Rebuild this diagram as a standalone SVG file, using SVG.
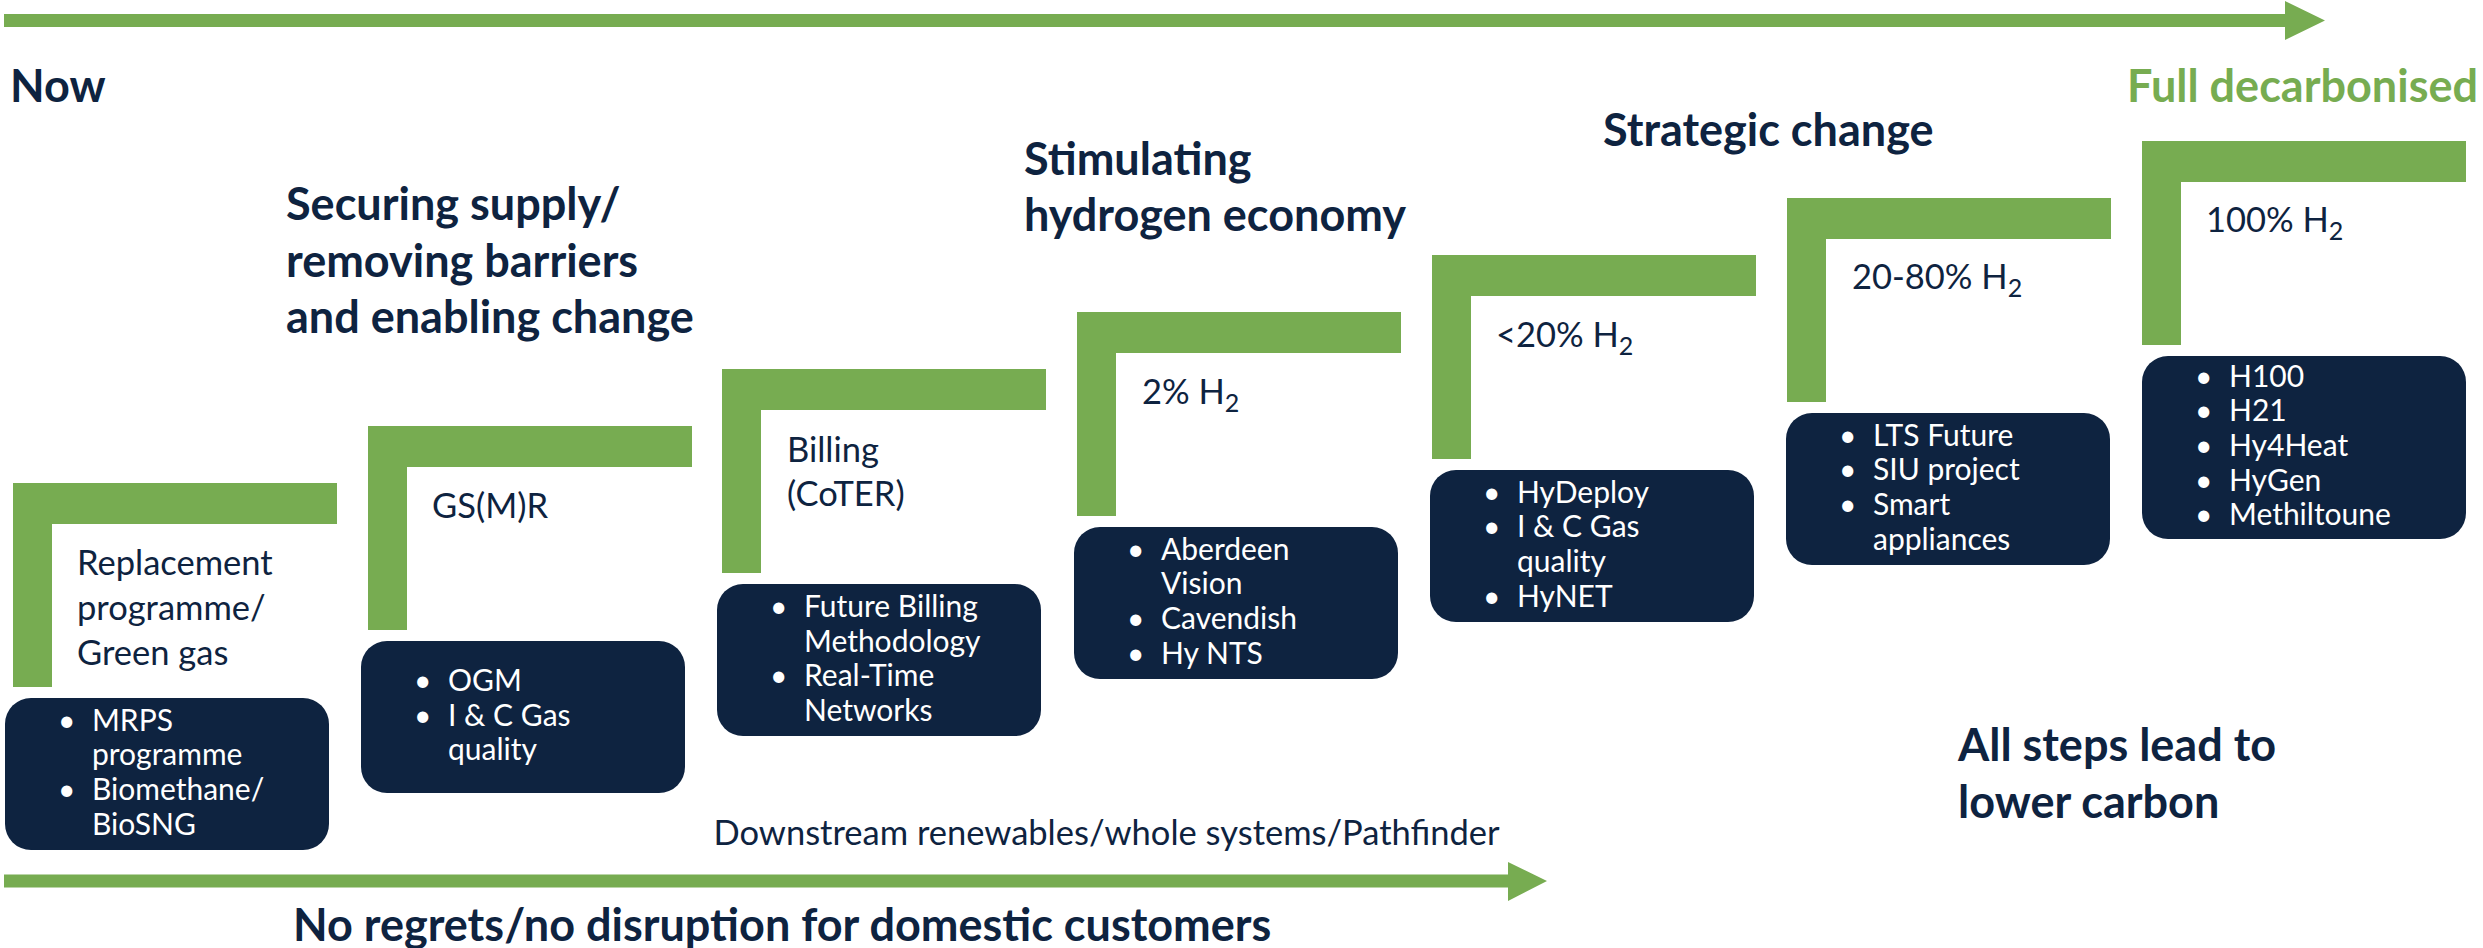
<svg xmlns="http://www.w3.org/2000/svg" width="2483" height="948" viewBox="0 0 2483 948">
<style>
text{font-family:Lato,"Liberation Sans",sans-serif;fill:#0e2340}
.h{font-weight:bold;font-size:45px}
.g{fill:#77ac51}
.lab{font-size:34.5px}
.bx{font-size:30px;fill:#ffffff}
.box{fill:#0e2340}
.step{fill:#77ac51}
.sub{font-size:25px}
</style>
<rect width="2483" height="948" fill="#ffffff"/>
<g id="connectors">
<path class="step" d="M4 14 H2285 V1 L2325 20.5 L2285 40 V27 H4 Z"/>
<path class="step" d="M4 874.5 H1508 V862 L1547 881 L1508 901 V887.5 H4 Z"/>
</g>
<g id="headings">
<text class="h" x="10" y="102">Now</text>
<text class="h" x="286" y="220">Securing supply/</text>
<text class="h" x="286" y="276.5">removing barriers</text>
<text class="h" x="286" y="333">and enabling change</text>
<text class="h" x="1024" y="174.5">Stimulating</text>
<text class="h" x="1024" y="230.5">hydrogen economy</text>
<text class="h" x="1603" y="145.5">Strategic change</text>
<text class="h g" x="2478" y="101.7" text-anchor="end" font-size="44">Full decarbonised</text>
<text class="h" x="1958" y="761">All steps lead to</text>
<text class="h" x="1958" y="818">lower carbon</text>
<text class="h" x="293" y="941" font-size="44.5">No regrets/no disruption for domestic customers</text>
<text class="lab" x="713.5" y="845">Downstream renewables/whole systems/Pathfinder</text>
</g>
<g id="step1">
<path class="step" d="M13 483 h324 v41 h-285 v163 h-39 z"/>
<text class="lab" x="77" y="575">Replacement</text>
<text class="lab" x="77" y="620">programme/</text>
<text class="lab" x="77" y="665">Green gas</text>
<rect class="box" x="5" y="698" width="324" height="152" rx="26"/>
<text class="bx" x="58" y="730.5">•</text><text class="bx" x="92" y="730.5">MRPS</text>
<text class="bx" x="92" y="765">programme</text>
<text class="bx" x="58" y="800">•</text><text class="bx" x="92" y="800">Biomethane/</text>
<text class="bx" x="92" y="834.5">BioSNG</text>
</g>
<g id="step2">
<path class="step" d="M368 426 h324 v41 h-285 v163 h-39 z"/>
<text class="lab" x="432" y="518">GS(M)R</text>
<rect class="box" x="361" y="641" width="324" height="152" rx="26"/>
<text class="bx" x="414" y="691">•</text><text class="bx" x="448" y="691">OGM</text>
<text class="bx" x="414" y="726">•</text><text class="bx" x="448" y="726">I &amp; C Gas</text>
<text class="bx" x="448" y="760">quality</text>
</g>
<g id="step3">
<path class="step" d="M722 369 h324 v41 h-285 v163 h-39 z"/>
<text class="lab" x="787" y="462">Billing</text>
<text class="lab" x="787" y="506">(CoTER)</text>
<rect class="box" x="717" y="584" width="324" height="152" rx="26"/>
<text class="bx" x="770" y="617">•</text><text class="bx" x="804" y="617">Future Billing</text>
<text class="bx" x="804" y="651.5">Methodology</text>
<text class="bx" x="770" y="686">•</text><text class="bx" x="804" y="686">Real-Time</text>
<text class="bx" x="804" y="721">Networks</text>
</g>
<g id="step4">
<path class="step" d="M1077 312 h324 v41 h-285 v163 h-39 z"/>
<text class="lab" x="1142" y="404">2% H<tspan class="sub" dy="8">2</tspan></text>
<rect class="box" x="1074" y="527" width="324" height="152" rx="26"/>
<text class="bx" x="1127" y="559.5">•</text><text class="bx" x="1161" y="559.5">Aberdeen</text>
<text class="bx" x="1161" y="594">Vision</text>
<text class="bx" x="1127" y="629">•</text><text class="bx" x="1161" y="629">Cavendish</text>
<text class="bx" x="1127" y="663.5">•</text><text class="bx" x="1161" y="663.5">Hy NTS</text>
</g>
<g id="step5">
<path class="step" d="M1432 255 h324 v41 h-285 v163 h-39 z"/>
<text class="lab" x="1496" y="347">&lt;20% H<tspan class="sub" dy="8">2</tspan></text>
<rect class="box" x="1430" y="470" width="324" height="152" rx="26"/>
<text class="bx" x="1483" y="502.5">•</text><text class="bx" x="1517" y="502.5">HyDeploy</text>
<text class="bx" x="1483" y="537">•</text><text class="bx" x="1517" y="537">I &amp; C Gas</text>
<text class="bx" x="1517" y="572">quality</text>
<text class="bx" x="1483" y="606.5">•</text><text class="bx" x="1517" y="606.5">HyNET</text>
</g>
<g id="step6">
<path class="step" d="M1787 198 h324 v41 h-285 v163 h-39 z"/>
<text class="lab" x="1852" y="289">20-80% H<tspan class="sub" dy="8">2</tspan></text>
<rect class="box" x="1786" y="413" width="324" height="152" rx="26"/>
<text class="bx" x="1839" y="445.5">•</text><text class="bx" x="1873" y="445.5">LTS Future</text>
<text class="bx" x="1839" y="480">•</text><text class="bx" x="1873" y="480">SIU project</text>
<text class="bx" x="1839" y="515">•</text><text class="bx" x="1873" y="515">Smart</text>
<text class="bx" x="1873" y="549.5">appliances</text>
</g>
<g id="step7">
<path class="step" d="M2142 141 h324 v41 h-285 v163 h-39 z"/>
<text class="lab" x="2206" y="232">100% H<tspan class="sub" dy="8">2</tspan></text>
<rect class="box" x="2142" y="356" width="324" height="183" rx="26"/>
<text class="bx" x="2195" y="386.5">•</text><text class="bx" x="2229" y="386.5">H100</text>
<text class="bx" x="2195" y="421">•</text><text class="bx" x="2229" y="421">H21</text>
<text class="bx" x="2195" y="456">•</text><text class="bx" x="2229" y="456">Hy4Heat</text>
<text class="bx" x="2195" y="490.5">•</text><text class="bx" x="2229" y="490.5">HyGen</text>
<text class="bx" x="2195" y="525">•</text><text class="bx" x="2229" y="525">Methiltoune</text>
</g>
</svg>
